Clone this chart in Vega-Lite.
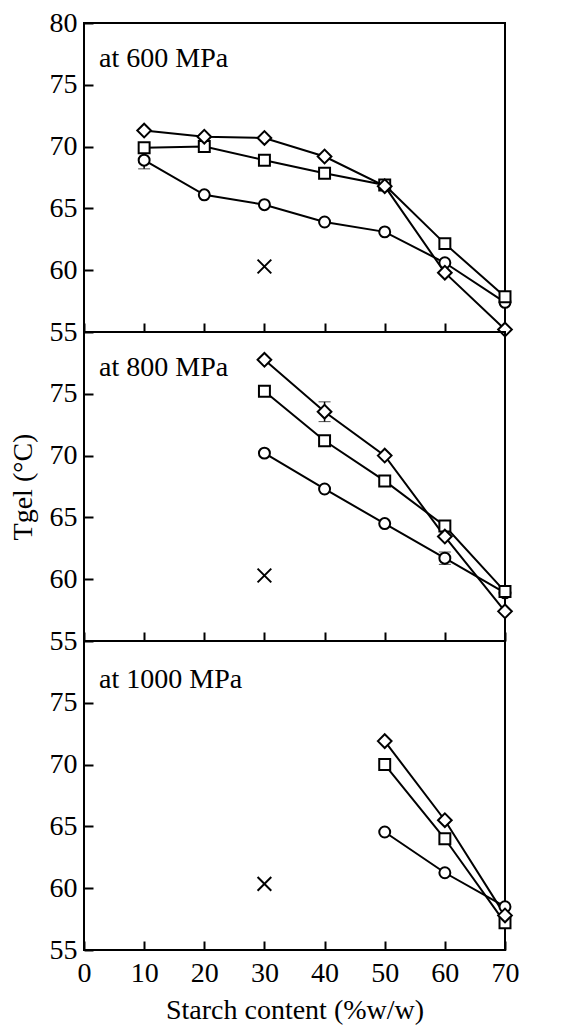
{
  "$schema": "https://vega.github.io/schema/vega-lite/v6.json",
  "padding": {"left": 8, "top": 8, "right": 5, "bottom": 2},
  "background": "white",
  "spacing": 0,
  "bounds": "flush",
  "config": {
    "font": "Liberation Serif",
    "view": {"stroke": "black", "strokeWidth": 2},
    "concat": {"spacing": 0},
    "axis": {
      "domain": false, "grid": false,
      "labelFont": "Liberation Serif", "labelFontSize": 28, "labelColor": "black",
      "tickColor": "black", "tickWidth": 2, "tickSize": -9,
      "titleFont": "Liberation Serif", "titleFontSize": 28, "titleFontWeight": "normal", "titleColor": "black",
      "labelFlush": false, "labelOverlap": false, "labelBound": false
    }
  },
  "datasets": {
    "pts": [
      {"p": 600, "s": "circle", "x": 10, "y": 68.9},
      {"p": 600, "s": "circle", "x": 20, "y": 66.1},
      {"p": 600, "s": "circle", "x": 30, "y": 65.3},
      {"p": 600, "s": "circle", "x": 40, "y": 63.9},
      {"p": 600, "s": "circle", "x": 50, "y": 63.1},
      {"p": 600, "s": "circle", "x": 60, "y": 60.6},
      {"p": 600, "s": "circle", "x": 70, "y": 57.4},
      {"p": 600, "s": "square", "x": 10, "y": 69.9},
      {"p": 600, "s": "square", "x": 20, "y": 70.0},
      {"p": 600, "s": "square", "x": 30, "y": 68.9},
      {"p": 600, "s": "square", "x": 40, "y": 67.85},
      {"p": 600, "s": "square", "x": 50, "y": 66.9},
      {"p": 600, "s": "square", "x": 60, "y": 62.15},
      {"p": 600, "s": "square", "x": 70, "y": 57.85},
      {"p": 600, "s": "diamond", "x": 10, "y": 71.3},
      {"p": 600, "s": "diamond", "x": 20, "y": 70.8},
      {"p": 600, "s": "diamond", "x": 30, "y": 70.7},
      {"p": 600, "s": "diamond", "x": 40, "y": 69.2},
      {"p": 600, "s": "diamond", "x": 50, "y": 66.8},
      {"p": 600, "s": "diamond", "x": 60, "y": 59.8},
      {"p": 600, "s": "diamond", "x": 70, "y": 55.2},
      {"p": 600, "s": "cross", "x": 30, "y": 60.3},
      {"p": 800, "s": "circle", "x": 30, "y": 70.2},
      {"p": 800, "s": "circle", "x": 40, "y": 67.3},
      {"p": 800, "s": "circle", "x": 50, "y": 64.5},
      {"p": 800, "s": "circle", "x": 60, "y": 61.7},
      {"p": 800, "s": "circle", "x": 70, "y": 58.9},
      {"p": 800, "s": "square", "x": 30, "y": 75.2},
      {"p": 800, "s": "square", "x": 40, "y": 71.2},
      {"p": 800, "s": "square", "x": 50, "y": 67.95},
      {"p": 800, "s": "square", "x": 60, "y": 64.3},
      {"p": 800, "s": "square", "x": 70, "y": 59.0},
      {"p": 800, "s": "diamond", "x": 30, "y": 77.75},
      {"p": 800, "s": "diamond", "x": 40, "y": 73.55},
      {"p": 800, "s": "diamond", "x": 50, "y": 70.0},
      {"p": 800, "s": "diamond", "x": 60, "y": 63.45},
      {"p": 800, "s": "diamond", "x": 70, "y": 57.4},
      {"p": 800, "s": "cross", "x": 30, "y": 60.3},
      {"p": 1000, "s": "circle", "x": 50, "y": 64.55},
      {"p": 1000, "s": "circle", "x": 60, "y": 61.25},
      {"p": 1000, "s": "circle", "x": 70, "y": 58.5},
      {"p": 1000, "s": "square", "x": 50, "y": 70.0},
      {"p": 1000, "s": "square", "x": 60, "y": 64.0},
      {"p": 1000, "s": "square", "x": 70, "y": 57.2},
      {"p": 1000, "s": "diamond", "x": 50, "y": 71.9},
      {"p": 1000, "s": "diamond", "x": 60, "y": 65.5},
      {"p": 1000, "s": "diamond", "x": 70, "y": 57.8},
      {"p": 1000, "s": "cross", "x": 30, "y": 60.35}
    ],
    "err": [
      {"p": 600, "x": 10, "lo": 68.2, "hi": 69.5},
      {"p": 800, "x": 40, "lo": 72.75, "hi": 74.35},
      {"p": 800, "x": 60, "lo": 61.2, "hi": 62.2}
    ]
  },
  "vconcat": [
    {
      "width": 421, "height": 309,
      "layer": [
        {
          "data": {"name": "pts"},
          "transform": [{"filter": "datum.p == 600 && datum.s != 'cross'"}],
          "mark": {"type": "line", "color": "black", "strokeWidth": 2},
          "encoding": {
            "x": {"field": "x", "type": "quantitative", "scale": {"domain": [0, 70], "nice": false, "zero": false}, "axis": {"values": [0, 10, 20, 30, 40, 50, 60, 70], "labels": false, "title": null}},
            "y": {"field": "y", "type": "quantitative", "scale": {"domain": [55, 80], "nice": false, "zero": false}, "axis": {"values": [55, 60, 65, 70, 75, 80], "labelPadding": 16, "title": null}},
            "detail": {"field": "s"}
          }
        },
        {
          "data": {"name": "err"},
          "transform": [{"filter": "datum.p == 600"}],
          "mark": {"type": "errorbar", "color": "black", "ticks": {"size": 12, "strokeWidth": 1.5}, "rule": {"strokeWidth": 1.5}},
          "encoding": {
            "x": {"field": "x", "type": "quantitative"},
            "y": {"field": "lo", "type": "quantitative", "title": null},
            "y2": {"field": "hi"}
          }
        },
        {
          "data": {"name": "pts"},
          "transform": [{"filter": "datum.p == 600"}],
          "mark": {"type": "point", "filled": false, "fill": "white", "fillOpacity": 1, "stroke": "black", "strokeWidth": 2, "opacity": 1, "size": 120},
          "encoding": {
            "x": {"field": "x", "type": "quantitative"},
            "y": {"field": "y", "type": "quantitative", "title": null},
            "shape": {"field": "s", "type": "nominal", "legend": null, "scale": {"domain": ["circle", "square", "diamond", "cross"], "range": ["circle", "square", "M-1.25,0L0,-1.25L1.25,0L0,1.25Z", "M-1.25,-1.25L1.25,1.25M1.25,-1.25L-1.25,1.25"]}}
          }
        },
        {
          "data": {"values": [{"label": "at 600 MPa"}]},
          "mark": {"type": "text", "align": "left", "baseline": "alphabetic", "fontSize": 28, "font": "Liberation Serif", "color": "black"},
          "encoding": {
            "x": {"datum": 2.5, "type": "quantitative"},
            "y": {"datum": 76.45, "type": "quantitative"},
            "text": {"field": "label"}
          }
        }
      ]
    },
    {
      "width": 421, "height": 309,
      "layer": [
        {
          "data": {"name": "pts"},
          "transform": [{"filter": "datum.p == 800 && datum.s != 'cross'"}],
          "mark": {"type": "line", "color": "black", "strokeWidth": 2},
          "encoding": {
            "x": {"field": "x", "type": "quantitative", "scale": {"domain": [0, 70], "nice": false, "zero": false}, "axis": {"values": [0, 10, 20, 30, 40, 50, 60, 70], "labels": false, "title": null}},
            "y": {"field": "y", "type": "quantitative", "scale": {"domain": [55, 80], "nice": false, "zero": false}, "axis": {"values": [55, 60, 65, 70, 75], "labelPadding": 16, "titlePadding": 12, "title": "Tgel (°C)"}},
            "detail": {"field": "s"}
          }
        },
        {
          "data": {"name": "err"},
          "transform": [{"filter": "datum.p == 800"}],
          "mark": {"type": "errorbar", "color": "black", "ticks": {"size": 12, "strokeWidth": 1.5}, "rule": {"strokeWidth": 1.5}},
          "encoding": {
            "x": {"field": "x", "type": "quantitative"},
            "y": {"field": "lo", "type": "quantitative", "title": "Tgel (°C)"},
            "y2": {"field": "hi"}
          }
        },
        {
          "data": {"name": "pts"},
          "transform": [{"filter": "datum.p == 800"}],
          "mark": {"type": "point", "filled": false, "fill": "white", "fillOpacity": 1, "stroke": "black", "strokeWidth": 2, "opacity": 1, "size": 120},
          "encoding": {
            "x": {"field": "x", "type": "quantitative"},
            "y": {"field": "y", "type": "quantitative", "title": "Tgel (°C)"},
            "shape": {"field": "s", "type": "nominal", "legend": null, "scale": {"domain": ["circle", "square", "diamond", "cross"], "range": ["circle", "square", "M-1.25,0L0,-1.25L1.25,0L0,1.25Z", "M-1.25,-1.25L1.25,1.25M1.25,-1.25L-1.25,1.25"]}}
          }
        },
        {
          "data": {"values": [{"label": "at 800 MPa"}]},
          "mark": {"type": "text", "align": "left", "baseline": "alphabetic", "fontSize": 28, "font": "Liberation Serif", "color": "black"},
          "encoding": {
            "x": {"datum": 2.5, "type": "quantitative"},
            "y": {"datum": 76.45, "type": "quantitative"},
            "text": {"field": "label"}
          }
        }
      ]
    },
    {
      "width": 421, "height": 309,
      "layer": [
        {
          "data": {"name": "pts"},
          "transform": [{"filter": "datum.p == 1000 && datum.s != 'cross'"}],
          "mark": {"type": "line", "color": "black", "strokeWidth": 2},
          "encoding": {
            "x": {"field": "x", "type": "quantitative", "scale": {"domain": [0, 70], "nice": false, "zero": false}, "axis": {"values": [0, 10, 20, 30, 40, 50, 60, 70], "labelPadding": 18, "titlePadding": 9, "title": "Starch content (%w/w)"}},
            "y": {"field": "y", "type": "quantitative", "scale": {"domain": [55, 80], "nice": false, "zero": false}, "axis": {"values": [55, 60, 65, 70, 75], "labelPadding": 16, "title": null}},
            "detail": {"field": "s"}
          }
        },
        {
          "data": {"name": "pts"},
          "transform": [{"filter": "datum.p == 1000"}],
          "mark": {"type": "point", "filled": false, "fill": "white", "fillOpacity": 1, "stroke": "black", "strokeWidth": 2, "opacity": 1, "size": 120},
          "encoding": {
            "x": {"field": "x", "type": "quantitative", "title": "Starch content (%w/w)"},
            "y": {"field": "y", "type": "quantitative", "title": null},
            "shape": {"field": "s", "type": "nominal", "legend": null, "scale": {"domain": ["circle", "square", "diamond", "cross"], "range": ["circle", "square", "M-1.25,0L0,-1.25L1.25,0L0,1.25Z", "M-1.25,-1.25L1.25,1.25M1.25,-1.25L-1.25,1.25"]}}
          }
        },
        {
          "data": {"values": [{"label": "at 1000 MPa"}]},
          "mark": {"type": "text", "align": "left", "baseline": "alphabetic", "fontSize": 28, "font": "Liberation Serif", "color": "black"},
          "encoding": {
            "x": {"datum": 2.5, "type": "quantitative"},
            "y": {"datum": 76.2, "type": "quantitative"},
            "text": {"field": "label"}
          }
        }
      ]
    }
  ]
}
